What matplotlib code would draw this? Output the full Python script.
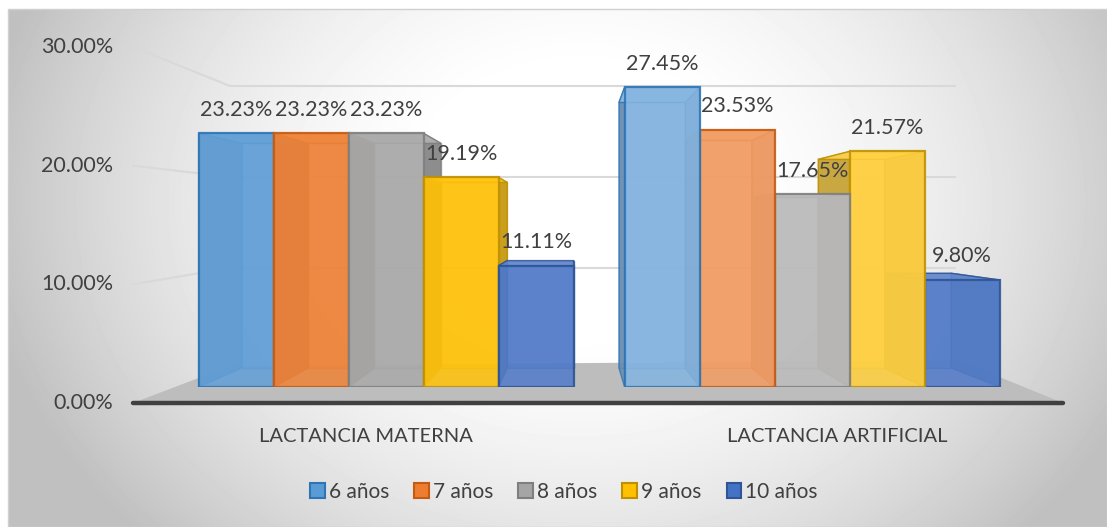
import numpy as np
import matplotlib.pyplot as plt
from matplotlib.patches import Polygon, Rectangle, Patch
from matplotlib.colors import to_rgb

plt.rcParams['font.family'] = ['Lato', 'DejaVu Sans']

grupos = ["LACTANCIA MATERNA", "LACTANCIA ARTIFICIAL"]
edades = ["6 años", "7 años", "8 años", "9 años", "10 años"]
materna = [23.23, 23.23, 23.23, 19.19, 11.11]
artificial = [27.45, 23.53, 17.65, 21.57, 9.80]
ticks = [0, 10, 20, 30]

colores = ["#5B9BD5", "#ED7D31", "#A5A5A5", "#FFC000", "#4472C4"]
bordes = ["#2E75B6", "#C55A11", "#7F7F7F", "#BF9000", "#2F5597"]
texto = "#404040"

W, H = 1107, 527
fig = plt.figure(figsize=(W / 100, H / 100), dpi=100)

# fondo en pixeles
bg = fig.add_axes([0, 0, 1, 1])
bg.set_xlim(0, W)
bg.set_ylim(H, 0)
bg.axis("off")
yy, xx = np.mgrid[9:H, 8:W]
r2 = ((xx - 580) / 520) ** 2 + ((yy - 200) / 420) ** 2
shade = np.clip(1.02 - 0.2 * r2, 0.75, 1.0)
bg.imshow(shade, cmap="gray", vmin=0, vmax=1, extent=(8, W, H, 9),
          aspect="auto", zorder=0)
bg.add_patch(Rectangle((8, 9), W - 8, H - 9, fill=False, ec="#D0D0D0", lw=1, zorder=1))

# paredes y suelo (3D simulado)
for t in ticks[1:]:
    yf = 403 - t * 11.87
    yb = 359 - t * 9.1
    bg.plot([133, 230, 955], [yf, yb, yb], color="#D9D9D9", lw=1.5, zorder=2)
bg.add_patch(Polygon([(133, 403), (230, 366), (958, 360), (1063, 403)],
                     closed=True, fc="#BDBDBD", ec="none", zorder=2))
bg.plot([133, 1063], [403, 403], color="#404040", lw=3.2,
        solid_capstyle="round", zorder=3)
for t in ticks:
    bg.text(113, 403 - t * 11.87, f"{t:.2f}%", ha="right", va="center",
            fontsize=15.5, color=texto)

# barras
ax = fig.add_axes([133 / W, (H - 387) / H, 930 / W, 327.6 / H])
ax.set_xlim(-0.594, 1.589)
ax.set_ylim(0, 30)
ax.axis("off")
ax.patch.set_alpha(0)

vp = np.array([0.4437, 15.2])
k = 0.114
w = 0.176


def mezcla(c, f):
    c = np.array(to_rgb(c))
    return tuple(c + (1 - c) * f) if f >= 0 else tuple(c * (1 + f))


for g, valores in enumerate([materna, artificial]):
    claro = 0.05 if g == 0 else 0.25
    for i, v in enumerate(valores):
        xc = g + (i - 2) * w
        x0, x1 = xc - w / 2, xc + w / 2
        z = 10 - abs(xc - vp[0])
        F = np.array([(x0, 0), (x1, 0), (x1, v), (x0, v)])
        B = F + (vp - F) * k
        base = mezcla(colores[i], claro if i < 4 else 0.08)
        ax.add_patch(Polygon(B, closed=True, fc=mezcla(base, -0.05), ec=bordes[i],
                             lw=1, alpha=0.6, zorder=z))
        for a, b in [(0, 3), (1, 2)]:
            ax.add_patch(Polygon([F[a], F[b], B[b], B[a]], closed=True,
                                 fc=mezcla(base, -0.25), ec=bordes[i], lw=1,
                                 alpha=0.8, zorder=z + 0.01))
        ax.add_patch(Polygon([F[3], F[2], B[2], B[3]], closed=True,
                             fc=mezcla(base, 0.1), ec=bordes[i], lw=1,
                             alpha=0.85, zorder=z + 0.02))
        ax.bar(xc, v, width=w, color=base, edgecolor=bordes[i], linewidth=1.6,
               alpha=0.88, zorder=z + 0.03)
        ax.annotate(f"{v:.2f}%", (xc, v), xytext=(0, 17), textcoords="offset points",
                    ha="center", va="center", fontsize=15.5, color=texto, zorder=20)
    xl = vp[0] + (g - vp[0]) * 1.106
    ax.text(xl, -4.49, grupos[g], ha="center", va="center", fontsize=14.5,
            color=texto, clip_on=False)

handles = [Patch(facecolor=colores[i], edgecolor=bordes[i], lw=1.5) for i in range(5)]
fig.legend(handles, edades, loc="center", bbox_to_anchor=(564 / W, 1 - 492 / H),
           ncol=5, frameon=False, fontsize=15, handlelength=0.7, handleheight=0.7,
           handletextpad=0.2, columnspacing=1.2, labelcolor=texto)

fig.savefig("out.png", dpi=100)
